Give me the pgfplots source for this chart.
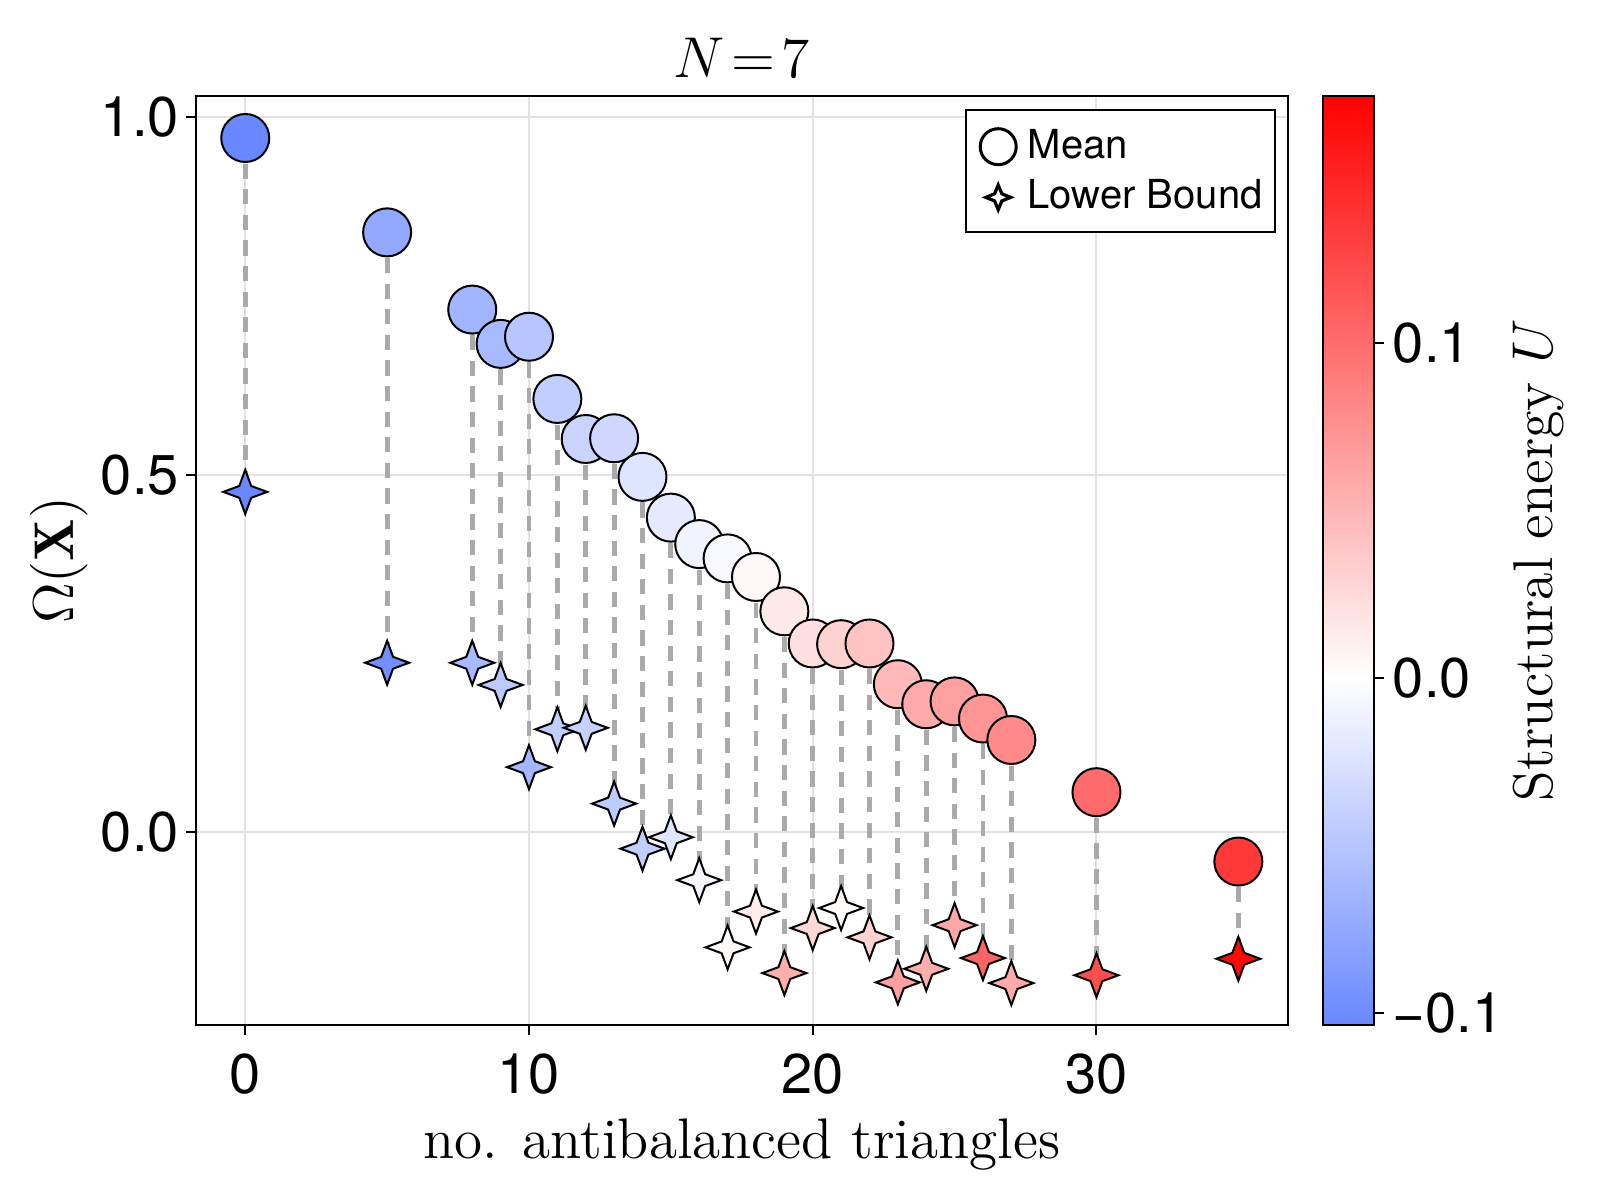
\documentclass[border=0pt]{standalone}
\usepackage{fontspec}
\usepackage{pgfplots}
\usepackage{pgfplotstable}
\pgfplotsset{compat=1.18}
\newfontfamily\heros{TeX Gyre Heros}
\definecolor{dashgray}{RGB}{170,170,170}

\pgfdeclareplotmark{star4}{%
  \pgfpathmoveto{\pgfqpoint{0pt}{\pgfplotmarksize}}%
  \pgfpathlineto{\pgfqpoint{0.27\pgfplotmarksize}{0.27\pgfplotmarksize}}%
  \pgfpathlineto{\pgfqpoint{\pgfplotmarksize}{0pt}}%
  \pgfpathlineto{\pgfqpoint{0.27\pgfplotmarksize}{-0.27\pgfplotmarksize}}%
  \pgfpathlineto{\pgfqpoint{0pt}{-\pgfplotmarksize}}%
  \pgfpathlineto{\pgfqpoint{-0.27\pgfplotmarksize}{-0.27\pgfplotmarksize}}%
  \pgfpathlineto{\pgfqpoint{-\pgfplotmarksize}{0pt}}%
  \pgfpathlineto{\pgfqpoint{-0.27\pgfplotmarksize}{0.27\pgfplotmarksize}}%
  \pgfpathclose
  \pgfusepathqfillstroke
}

\pgfplotstableread{
x mean lb um ul
0 0.971 0.476 -0.1037 -0.1037
5 0.839 0.237 -0.075 -0.098
8 0.731 0.237 -0.064 -0.060
9 0.683 0.206 -0.060 -0.047
10 0.693 0.091 -0.050 -0.062
11 0.606 0.144 -0.043 -0.043
12 0.550 0.146 -0.037 -0.040
13 0.551 0.040 -0.033 -0.045
14 0.497 -0.023 -0.023 -0.043
15 0.440 -0.007 -0.018 -0.022
16 0.403 -0.067 -0.010 -0.006
17 0.383 -0.161 -0.004 0.003
18 0.357 -0.111 0.005 0.012
19 0.309 -0.197 0.014 0.055
20 0.264 -0.134 0.022 0.027
21 0.263 -0.106 0.031 0.003
22 0.264 -0.147 0.041 0.030
23 0.207 -0.210 0.048 0.065
24 0.179 -0.191 0.058 0.055
25 0.183 -0.130 0.065 0.060
26 0.159 -0.176 0.072 0.106
27 0.129 -0.211 0.080 0.058
30 0.056 -0.200 0.102 0.120
35 -0.041 -0.177 0.136 0.168
}\datatable

\begin{document}
\begin{tikzpicture}
\useasboundingbox (-48.9pt,-43.75pt) rectangle (351.1pt,256.25pt);
\begin{axis}[
  at={(0pt,0pt)}, anchor=south west,
  scale only axis, width=273.1pt, height=232.3pt,
  xmin=-1.75, xmax=36.75, ymin=-0.2696, ymax=1.030,
  xtick={0,10,20,30}, xticklabels={0,10,20,30},
  ytick={0,0.5,1}, yticklabels={0.0,0.5,1.0},
  xtick pos=lower, ytick pos=left,
  tick align=outside, major tick length=2.5pt,
  tick style={line width=0.5pt, black},
  axis line style={line width=0.5pt},
  grid=major, grid style={line width=0.5pt, black!11},
  tick label style={font=\heros\fontsize{14}{17}\selectfont},
  yticklabel style={anchor=east, inner sep=0pt, xshift=-1.5pt},
  xticklabel style={anchor=north, inner sep=0pt, yshift=-4.5pt},
  title={$N\mkern2mu{=}\mkern2mu7$},
  title style={font=\fontsize{14}{17}\selectfont, at={(axis description cs:0.5,0.994)}, anchor=base},
  xlabel={no. antibalanced triangles},
  xlabel style={font=\fontsize{14.3}{17}\selectfont, at={(axis description cs:0.5,-0.1433)}, anchor=base},
  ylabel={$\Omega(\mathbf{X})$},
  ylabel style={font=\fontsize{14}{17}\selectfont, at={(axis description cs:-0.11205,0.5)}, anchor=base},
  colormap={cw}{rgb255(0pt)=(105,136,255); rgb255(10.37pt)=(255,255,255); rgb255(27.77pt)=(255,0,0)},
  point meta min=-0.1037, point meta max=0.174,
  colorbar,
  colorbar style={
    at={(parent axis.north east)}, anchor=north west, xshift=0.25pt,
    scale only axis, width=12.75pt, height=232.3pt,
    ytick={-0.1,0,0.1}, yticklabels={−0.1,0.0,0.1},
    ytick pos=right, yticklabel pos=right,
    tick align=outside, major tick length=2.5pt,
    tick style={line width=0.5pt, black},
    axis line style={line width=0.5pt},
    yticklabel style={font=\heros\fontsize{14}{17}\selectfont, anchor=west, inner sep=0pt, xshift=2pt},
    ylabel={Structural energy $U$},
    ylabel style={font=\fontsize{14}{17}\selectfont, at={(axis description cs:4.49,0.5)}, anchor=base},
  },
  legend style={at={(axis description cs:1,1)}, anchor=north east, xshift=-2.9pt, yshift=-3.3pt,
    draw=black, line width=0.5pt, font=\heros\fontsize{10}{12}\selectfont,
    inner xsep=3.2pt, inner ysep=4.3pt, row sep=3.4pt, column sep=2.5pt,
    nodes={inner sep=0pt}, cells={anchor=west}},
]
\addplot[forget plot, only marks, mark=none,
  error bars/.cd, y dir=minus, y explicit, error mark=none,
  error bar style={draw=dashgray, line width=1.2pt, dash pattern=on 3.8pt off 2.6pt}]
  table[x=x, y=mean, y error minus expr={\thisrow{mean}-\thisrow{lb}}] {\datatable};

\addplot[scatter, only marks, scatter src=explicit, mark=*, mark size=6pt, line width=0.5pt,
  scatter/use mapped color={draw=black, fill=mapped color},
  legend image code/.code={\draw[black, line width=0.75pt, fill=white] (0pt,0pt) circle (4.5pt);}]
  table[x=x, y=mean, meta=um] {\datatable};
\addlegendentry{Mean}

\addplot[scatter, only marks, scatter src=explicit, mark=star4, mark size=5.5pt, line width=0.5pt,
  scatter/use mapped color={draw=black, fill=mapped color},
  legend image code/.code={\draw[black, line width=0.8pt, fill=white, line join=miter]
    (0pt,3.1pt) -- (0.9pt,0.9pt) -- (3.1pt,0pt) -- (0.9pt,-0.9pt) -- (0pt,-3.1pt)
    -- (-0.9pt,-0.9pt) -- (-3.1pt,0pt) -- (-0.9pt,0.9pt) -- cycle;}]
  table[x=x, y=lb, meta=ul] {\datatable};
\addlegendentry{Lower Bound}
\end{axis}
\end{tikzpicture}
\end{document}
